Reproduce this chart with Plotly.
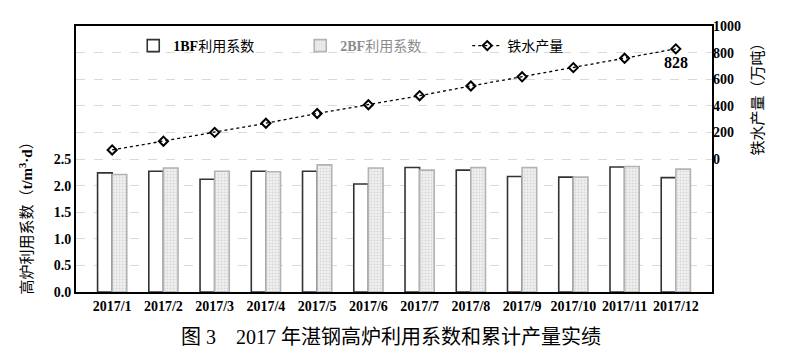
import plotly.graph_objects as go

months = ["2017/1", "2017/2", "2017/3", "2017/4", "2017/5", "2017/6",
          "2017/7", "2017/8", "2017/9", "2017/10", "2017/11", "2017/12"]
bf1 = [2.24, 2.27, 2.12, 2.27, 2.27, 2.03, 2.34, 2.29, 2.17, 2.16, 2.35, 2.15]
bf2 = [2.21, 2.33, 2.27, 2.26, 2.39, 2.33, 2.29, 2.34, 2.34, 2.16, 2.36, 2.31]
iron = [68, 134, 200, 269, 342, 408, 476, 549, 618, 687, 757, 828]

left_ticks = [0, 0.5, 1.0, 1.5, 2.0, 2.5]
left_text = ["0.0", "0.5", "1.0", "1.5", "2.0", "2.5"]
right_ticks = [0, 200, 400, 600, 800, 1000]

SERIF = "Liberation Serif, Noto Sans CJK SC"

fig = go.Figure()
fig.add_trace(go.Bar(
    x=months, y=bf1, name="<b>1BF</b>利用系数",
    marker=dict(color="white", line=dict(color="#333333", width=1.6)),
))
fig.add_trace(go.Bar(
    x=months, y=bf2, name='<span style="color:#8c8c8c"><b>2BF</b>利用系数</span>',
    marker=dict(color="#ececec", line=dict(color="#b3b3b3", width=1.6),
                pattern=dict(shape=".", size=3, solidity=0.35, fgcolor="#bdbdbd", bgcolor="#f0f0f0")),
))
fig.add_trace(go.Scatter(
    x=months, y=iron, name="铁水产量", yaxis="y2", mode="lines+markers",
    line=dict(color="black", width=1.3, dash="dot"),
    marker=dict(symbol="diamond-open", size=7, color="black", line=dict(width=2, color="black")),
))

fig.add_annotation(x=months[-1], y=iron[-1], yref="y2", text="828", showarrow=False,
                   xanchor="center", yanchor="middle",
                   yshift=-14, xshift=0, font=dict(family=SERIF, size=16, color="black", weight="bold"))

fig.add_annotation(xref="paper", yref="paper", x=-0.079, y=0.29, textangle=-90, showarrow=False,
                   xanchor="center", yanchor="middle",
                   text="高炉利用系数（<b>t/m<sup>3</sup>·d</b>）",
                   font=dict(family=SERIF, size=15, color="#000000"))
fig.add_annotation(xref="paper", yref="paper", x=1.073, y=0.74, textangle=-90, showarrow=False,
                   xanchor="center", yanchor="middle",
                   text="铁水产量（万吨）",
                   font=dict(family=SERIF, size=15, color="#000000"))
fig.add_annotation(xref="paper", yref="paper", x=0.496, y=-0.168, showarrow=False,
                   xanchor="center", yanchor="middle",
                   text="图 3　2017 年湛钢高炉利用系数和累计产量实绩",
                   font=dict(family=SERIF, size=20, color="black"))

# the page body has an 8px margin: compensate so the plot lands where the reference has it
fig.update_layout(
    width=789, height=348,
    margin=dict(l=68, r=85, t=11, b=64),
    paper_bgcolor="white", plot_bgcolor="white",
    barmode="group", bargap=0.43, bargroupgap=0,
    showlegend=True,
    legend=dict(orientation="h", x=0.09, y=0.985, xanchor="left", yanchor="top",
                font=dict(family=SERIF, size=14, color="black"),
                entrywidth=122, bgcolor="rgba(0,0,0,0)"),
    xaxis=dict(showline=True, linecolor="black", linewidth=2, mirror=True,
               ticks="", tickfont=dict(family=SERIF, size=14, color="black", weight="bold")),
    yaxis=dict(range=[0, 5], tickvals=left_ticks, ticktext=left_text,
               showgrid=True, gridcolor="#d9d9d9", griddash="dash", gridwidth=1,
               showline=True, linecolor="black", linewidth=2, mirror=True, zeroline=False,
               ticks="", tickfont=dict(family=SERIF, size=14, color="black", weight="bold")),
    yaxis2=dict(range=[-1000, 1000], tickvals=right_ticks, overlaying="y", side="right",
                showgrid=True, gridcolor="#d9d9d9", griddash="dash", gridwidth=1,
                zeroline=False, showline=False, ticks="",
                tickfont=dict(family=SERIF, size=14, color="black", weight="bold")),
)

fig.write_html("out.html")
